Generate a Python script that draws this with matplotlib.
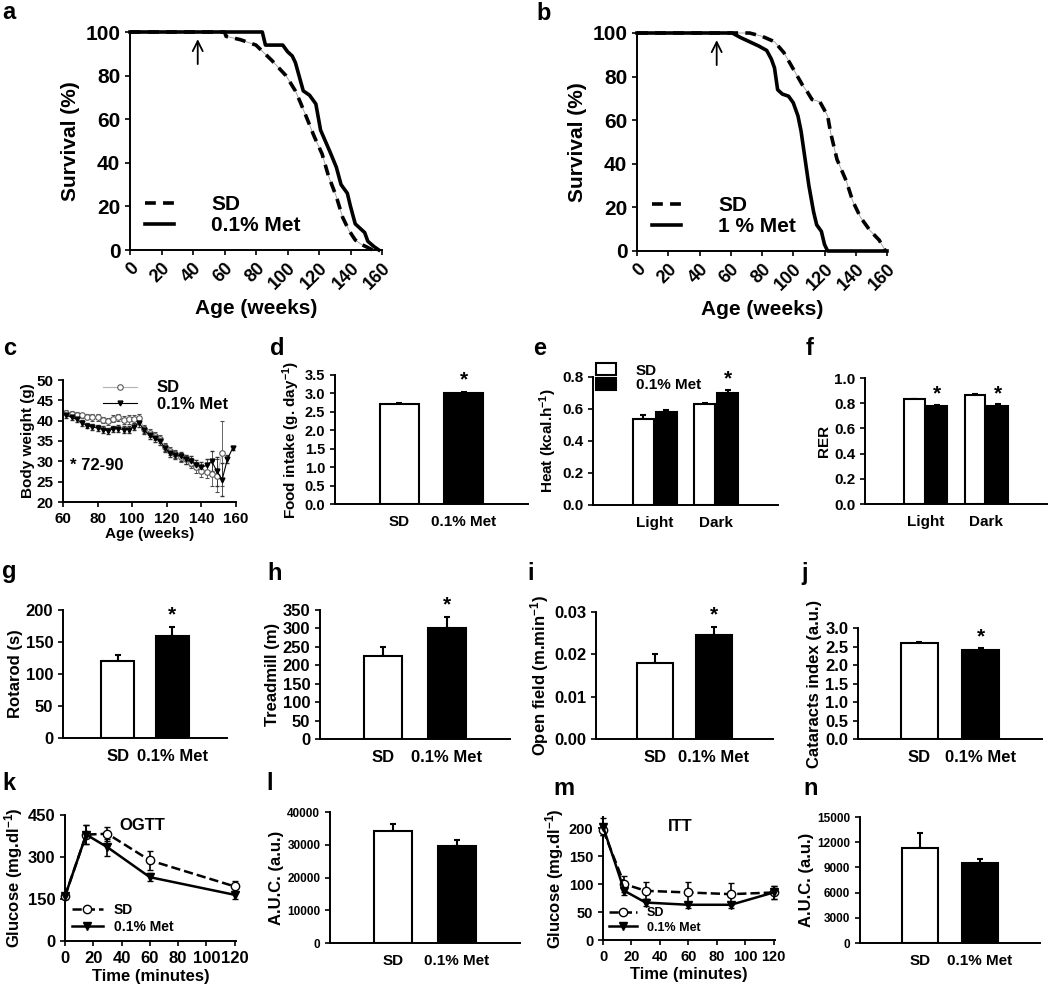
import numpy as np
import matplotlib.pyplot as plt

plt.rcParams['font.family'] = ['Liberation Sans', 'DejaVu Sans']
plt.rcParams['font.weight'] = 'bold'
plt.rcParams['axes.labelweight'] = 'bold'
plt.rcParams['axes.linewidth'] = 1.4
plt.rcParams['mathtext.fontset'] = 'custom'
plt.rcParams['mathtext.bf'] = 'Liberation Sans:bold'
plt.rcParams['mathtext.default'] = 'bf'
plt.rcParams['xtick.major.width'] = 1.2
plt.rcParams['ytick.major.width'] = 1.2

W, H = 1050, 988

# ---------------- data ----------------
# a: survival, SD vs 0.1% Met
sd_a_age = [0, 60, 61, 70, 80, 90, 99, 105, 108, 112, 117, 122, 126, 131, 135, 139, 143, 147, 150, 154]
sd_a_surv = [100, 100, 98, 96.5, 94, 87, 80, 73, 68, 61, 52, 44, 34, 24.5, 15, 9, 4.6, 2.5, 1.5, 0]
met01_age = [0, 84, 86, 90, 97, 100, 103, 105, 110, 114, 118, 121, 124, 127, 131, 134, 138, 140, 143, 146,
             149, 151, 155, 158]
met01_surv = [100, 100, 94, 94, 94, 91, 89, 86, 73, 71, 67, 55, 50, 45, 38, 30, 26, 20, 12, 10, 8, 4, 1.5, 0]

# b: survival, SD vs 1% Met
sd_b_age = [0, 72, 80, 88, 94, 98, 102, 106, 109, 112, 117, 122, 124, 128, 134, 138, 143, 149, 155, 159]
sd_b_surv = [100, 100, 98.5, 96, 91, 86, 81, 76, 73, 69.5, 68.5, 62, 54, 42, 32, 23, 15.5, 9.5, 5, 0]
met1_age = [0, 61, 66, 72, 78, 83, 86, 88, 90, 93, 97, 100, 103, 105, 107, 110, 113, 115, 118, 120, 122, 160]
met1_surv = [100, 100, 98, 96, 94, 92, 88, 84, 74, 72, 71, 68, 62, 55, 45, 30, 18, 12, 9, 3, 0, 0]

# c: body weight
bw_sd_age = [62, 65, 68, 71, 74, 77, 80, 83, 86, 89, 92, 95, 98, 101, 104, 107, 110, 113, 116, 119, 122, 125,
             128, 131, 134, 137, 140, 143, 146, 149, 152]
bw_sd = [42.0, 41.7, 41.5, 41.3, 41.0, 40.8, 40.8, 40.2, 39.8, 40.5, 40.8, 40.1, 40.3, 40.5, 40.7, 38.0, 37.0,
         36.3, 35.5, 33.5, 32.6, 31.8, 31.0, 30.5, 29.5, 28.5, 27.6, 27.4, 27.0, 26.5, 32.0]
bw_sd_err = [0.6, 0.6, 0.7, 0.7, 0.7, 0.8, 0.8, 0.8, 0.9, 0.9, 0.9, 1.0, 1.0, 1.0, 1.0, 1.0, 1.0, 1.0, 1.0, 1.0,
             1.0, 1.0, 1.1, 1.1, 1.2, 1.3, 1.4, 1.6, 3.0, 4.0, 8.0]
bw_met_age = [62, 65, 68, 71, 74, 77, 80, 83, 86, 89, 92, 95, 98, 101, 104, 107, 110, 113, 116, 119, 122, 125,
              128, 131, 134, 137, 140, 143, 146, 149, 152, 155, 158]
bw_met = [41.3, 40.8, 40.3, 39.5, 38.8, 38.4, 38.2, 37.8, 37.5, 38.0, 38.0, 37.8, 37.8, 38.5, 39.5, 37.6, 36.5,
          35.8, 35.0, 33.2, 32.0, 31.5, 31.3, 30.5, 30.0, 29.2, 28.5, 29.0, 30.0, 27.5, 25.5, 30.5, 33.2]
bw_met_err = [0.6, 0.6, 0.6, 0.7, 0.7, 0.7, 0.8, 0.8, 0.8, 0.8, 0.9, 0.9, 0.9, 0.9, 1.0, 1.0, 1.0, 1.0, 1.0,
              1.0, 1.0, 1.0, 1.1, 1.1, 1.2, 1.2, 1.3, 1.5, 2.5, 3.5, 4.0, 1.0, 0.5]

groups = ['SD', '0.1% Met']
phases = ['Light', 'Dark']

# d-j, l, n: bars (SD, 0.1% Met)
food = [2.70, 3.02]
food_err = [0.03, 0.03]
heat_sd = [0.54, 0.63]
heat_sd_err = [0.02, 0.01]
heat_met = [0.58, 0.70]
heat_met_err = [0.015, 0.02]
rer_sd = [0.83, 0.865]
rer_sd_err = [0.005, 0.01]
rer_met = [0.78, 0.78]
rer_met_err = [0.006, 0.012]
rotarod = [120, 160]
rotarod_err = [10, 13]
treadmill = [225, 300]
treadmill_err = [25, 30]
openfield = [0.018, 0.0245]
openfield_err = [0.002, 0.002]
cataract = [2.6, 2.4]
cataract_err = [0.03, 0.05]
ogtt_auc = [34200, 29700]
ogtt_auc_err = [2000, 1800]
itt_auc = [11300, 9500]
itt_auc_err = [1800, 500]

# k: OGTT
ogtt_t = [0, 15, 30, 60, 120]
ogtt_sd = [160, 380, 383, 288, 195]
ogtt_sd_err = [10, 35, 25, 35, 20]
ogtt_met = [160, 380, 335, 228, 165]
ogtt_met_err = [10, 35, 30, 15, 15]

# m: ITT
itt_t = [0, 15, 30, 60, 90, 120]
itt_sd = [197, 100, 88, 85, 82, 85]
itt_sd_err = [10, 15, 15, 18, 20, 12]
itt_met = [203, 88, 67, 63, 63, 85]
itt_met_err = [15, 8, 6, 5, 5, 12]

# ---------------- figure ----------------
fig = plt.figure(figsize=(W / 100, H / 100), dpi=100)


def axes_px(l, t, r, b):
    ax = fig.add_axes([l / W, 1 - b / H, (r - l) / W, (b - t) / H])
    ax.spines['top'].set_visible(False)
    ax.spines['right'].set_visible(False)
    return ax


def panel_label(x, y, s):
    fig.text(x / W, 1 - y / H, s, fontsize=17, fontweight='bold', va='baseline')


def survival(ax, sd_age, sd_surv, met_age, met_surv, met_label, arrow_x):
    ax.plot(sd_age, sd_surv, color='0.6', lw=0.6, clip_on=False)
    ax.plot(sd_age, sd_surv, color='k', ls='--', dashes=(3, 2), lw=2.6, clip_on=False, label='SD')
    ax.plot(met_age, met_surv, color='k', lw=2.6, clip_on=False, label=met_label)
    ax.annotate('', xy=(arrow_x, 98), xytext=(arrow_x, 84),
                arrowprops=dict(arrowstyle='->', lw=1.3, color='k', mutation_scale=18))
    ax.set_xlim(0, 160)
    ax.set_ylim(0, 100)
    ax.set_xticks(range(0, 161, 20))
    ax.set_yticks(range(0, 101, 20))
    ax.tick_params(axis='y', labelsize=15)
    ax.tick_params(axis='x', labelsize=13)
    plt.setp(ax.get_xticklabels(), rotation=45, ha='right', rotation_mode='anchor')
    ax.set_ylabel('Survival (%)', fontsize=15)
    ax.set_xlabel('Age (weeks)', fontsize=15, labelpad=4)
    ax.legend(loc='lower left', frameon=False, fontsize=15, handlelength=1.4,
              handletextpad=1.8, labelspacing=0.1, borderaxespad=0.3)


def bar_pair(ax, vals, errs, star, fs, ymax, yticks, ylabel, lfs, fmt=None):
    x = [1, 2]
    ax.bar(x, vals, width=0.6, color=['white', 'black'], edgecolor='black', lw=1.5, zorder=2)
    ax.errorbar(x, vals, yerr=[[0, 0], errs], fmt='none', ecolor='black', capsize=2.5,
                elinewidth=1.5, capthick=1.5, zorder=1)
    if star:
        ax.text(2, vals[1] + errs[1] + ymax * 0.02, '*', ha='center', va='bottom', fontsize=15)
    ax.set_xlim(0, 3)
    ax.set_ylim(0, ymax)
    ax.set_yticks(yticks)
    if fmt:
        ax.set_yticklabels([fmt.format(v) for v in yticks])
    ax.set_xticks(x)
    ax.set_xticklabels(groups)
    ax.tick_params(axis='x', length=0, labelsize=lfs, pad=8)
    ax.tick_params(axis='y', labelsize=fs)
    ax.set_ylabel(ylabel, fontsize=lfs, labelpad=2)


def bar_groups(ax, sd, sd_err, met, met_err, stars, ymax, yticks, ylabel, fmt):
    x = np.array([1, 2])
    off, w = 0.185, 0.34
    ax.bar(x - off, sd, width=w, color='white', edgecolor='black', lw=1.5, zorder=2, label='SD')
    ax.bar(x + off, met, width=w, color='black', edgecolor='black', lw=1.5, zorder=2, label='0.1% Met')
    ax.errorbar(x - off, sd, yerr=[[0, 0], sd_err], fmt='none', ecolor='black', capsize=2,
                elinewidth=1.5, capthick=1.5, zorder=1)
    ax.errorbar(x + off, met, yerr=[[0, 0], met_err], fmt='none', ecolor='black', capsize=2,
                elinewidth=1.5, capthick=1.5, zorder=1)
    for i, s in enumerate(stars):
        if s:
            ax.text(x[i] + off, met[i] + met_err[i] + ymax * 0.01, '*', ha='center', va='bottom', fontsize=15)
    ax.set_xlim(0, 3)
    ax.set_ylim(0, ymax)
    ax.set_yticks(yticks)
    ax.set_yticklabels([fmt.format(v) for v in yticks])
    ax.set_xticks(x)
    ax.set_xticklabels(phases)
    ax.tick_params(axis='x', length=0, labelsize=11, pad=8)
    ax.tick_params(axis='y', labelsize=11)
    ax.set_ylabel(ylabel, fontsize=11, labelpad=2)


def glucose(ax, t, sd, sd_err, met, met_err, title, ymax, yticks, fs, legfs):
    e1 = ax.errorbar(t, sd, yerr=sd_err, color='k', ls='--', lw=1.8, marker='o', mfc='white', mec='k',
                     ms=6, capsize=2, elinewidth=1.2, clip_on=False, zorder=3)
    e2 = ax.errorbar(t, met, yerr=met_err, color='k', lw=1.8, marker='v', mfc='k', mec='k',
                     ms=6, capsize=2, elinewidth=1.2, clip_on=False, zorder=3)
    ax.set_xlim(0, 121)
    ax.set_ylim(0, ymax)
    ax.set_xticks(range(0, 121, 20))
    ax.set_yticks(yticks)
    ax.tick_params(labelsize=fs)
    ax.set_xlabel('Time (minutes)', fontsize=12, labelpad=2)
    ax.set_ylabel('Glucose (mg.dl$^{-1}$)', fontsize=12, labelpad=2)
    ax.text(0.45, 0.92, title, transform=ax.transAxes, fontsize=12, ha='center', va='center')
    ax.legend([e1.lines[0], e2.lines[0]], groups, loc='lower left', frameon=False, fontsize=legfs,
              handlelength=2.2, handletextpad=0.8, labelspacing=0.2, borderaxespad=0.1)


# a
ax = axes_px(130, 32, 382, 250)
survival(ax, sd_a_age, sd_a_surv, met01_age, met01_surv, '0.1% Met', 43)
panel_label(2, 19, 'a')

# b
ax = axes_px(637, 33, 887, 251)
survival(ax, sd_b_age, sd_b_surv, met1_age, met1_surv, '1 % Met', 51)
panel_label(536, 20, 'b')

# c
ax = axes_px(63, 380, 236, 502)
c1 = ax.errorbar(bw_sd_age, bw_sd, yerr=bw_sd_err, color='0.7', lw=0.8, marker='o', mfc='white', mec='0.35',
                 ms=4, mew=0.8, capsize=1.5, elinewidth=0.6, ecolor='0.3')
c2 = ax.errorbar(bw_met_age, bw_met, yerr=bw_met_err, color='k', lw=0.8, marker='v', mfc='k', mec='k',
                 ms=3.5, capsize=1.5, elinewidth=0.6, ecolor='0.2')
ax.text(64, 29, '* 72-90', fontsize=12, va='center')
ax.set_xlim(60, 160)
ax.set_ylim(20, 50)
ax.set_xticks(range(60, 161, 20))
ax.set_yticks(range(20, 51, 5))
ax.tick_params(labelsize=11)
ax.set_xlabel('Age (weeks)', fontsize=11, labelpad=1)
ax.set_ylabel('Body weight (g)', fontsize=11, labelpad=1)
ax.legend([c1.lines[0], c2.lines[0]], groups, loc='upper right', bbox_to_anchor=(1.04, 1.12),
          frameon=False, fontsize=12, handlelength=2.0, handletextpad=1.2, labelspacing=0.1)
panel_label(3, 355, 'c')

# d
ax = axes_px(335, 375, 528, 504)
bar_pair(ax, food, food_err, True, 10.5, 3.5, [0, 0.5, 1, 1.5, 2, 2.5, 3, 3.5],
         'Food intake (g. day$^{-1}$)', 11, '{:.1f}')
panel_label(270, 355, 'd')

# e
ax = axes_px(593, 377, 778, 505)
bar_groups(ax, heat_sd, heat_sd_err, heat_met, heat_met_err, [False, True], 0.8,
           [0, 0.2, 0.4, 0.6, 0.8], 'Heat (kcal.h$^{-1}$)', '{:.1f}')
ax.legend(loc='upper left', bbox_to_anchor=(0.0, 1.13), frameon=False, fontsize=11, handlelength=1.3,
          handleheight=0.8, handletextpad=1.3, labelspacing=0.05, borderaxespad=0, borderpad=0.2)
panel_label(533, 355, 'e')

# f
ax = axes_px(865, 378, 1047, 504)
bar_groups(ax, rer_sd, rer_sd_err, rer_met, rer_met_err, [True, True], 1.0,
           [0, 0.2, 0.4, 0.6, 0.8, 1.0], 'RER', '{:.1f}')
panel_label(806, 355, 'f')

# g
ax = axes_px(63, 610, 227, 738)
bar_pair(ax, rotarod, rotarod_err, True, 12, 200, [0, 50, 100, 150, 200], 'Rotarod (s)', 12)
panel_label(2, 578, 'g')

# h
ax = axes_px(320, 610, 510, 739)
bar_pair(ax, treadmill, treadmill_err, True, 12, 350, list(range(0, 351, 50)), 'Treadmill (m)', 12)
panel_label(267, 580, 'h')

# i
ax = axes_px(596, 612, 773, 739)
bar_pair(ax, openfield, openfield_err, True, 12, 0.03, [0, 0.01, 0.02, 0.03],
         'Open field (m.min$^{-1}$)', 12, '{:.2f}')
panel_label(527, 580, 'i')

# j
ax = axes_px(858, 628, 1042, 739)
bar_pair(ax, cataract, cataract_err, True, 12, 3.0, [0, 0.5, 1, 1.5, 2, 2.5, 3],
         'Cataracts index (a.u.)', 12, '{:.1f}')
panel_label(801, 580, 'j')

# k
ax = axes_px(65, 815, 236, 941)
glucose(ax, ogtt_t, ogtt_sd, ogtt_sd_err, ogtt_met, ogtt_met_err, 'OGTT', 450, [0, 150, 300, 450], 12, 10)
panel_label(2, 790, 'k')

# l
ax = axes_px(330, 812, 520, 943)
bar_pair(ax, ogtt_auc, ogtt_auc_err, False, 8.5, 40000, [0, 10000, 20000, 30000, 40000],
         'A.U.C. (a.u.)', 12)
ax.tick_params(axis='x', labelsize=11)
panel_label(266, 790, 'l')

# m
ax = axes_px(603, 817, 775, 940)
glucose(ax, itt_t, itt_sd, itt_sd_err, itt_met, itt_met_err, 'ITT', 220, [0, 50, 100, 150, 200], 10.5, 9)
panel_label(553, 795, 'm')

# n
ax = axes_px(860, 817, 1040, 943)
bar_pair(ax, itt_auc, itt_auc_err, False, 8.5, 15000, [0, 3000, 6000, 9000, 12000, 15000],
         'A.U.C. (a.u.)', 12)
ax.tick_params(axis='x', labelsize=11)
panel_label(803, 795, 'n')

fig.savefig('out.png', dpi=100)
